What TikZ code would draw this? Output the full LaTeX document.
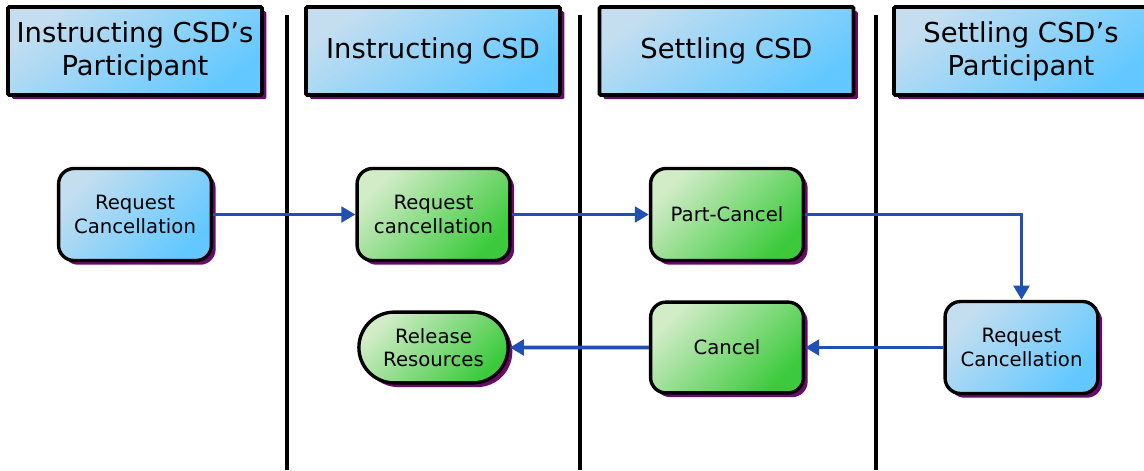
\documentclass[tikz,border=0pt]{standalone}
\usepackage{fontspec}
\setmainfont{DejaVu Sans}
\usepackage{tikz}
\usetikzlibrary{arrows.meta, shapes.misc, shadows}
\definecolor{blueA}{HTML}{C4DEF0}
\definecolor{blueB}{HTML}{62C8FF}
\definecolor{greenA}{HTML}{D2ECC8}
\definecolor{greenB}{HTML}{3CCA3C}
\definecolor{shadowpurple}{HTML}{6A0A6A}
\definecolor{flowblue}{HTML}{2150B4}

\begin{document}
\begin{tikzpicture}[
  x=0.025cm, y=-0.025cm,
  boxshadow/.style={general shadow={fill=shadowpurple, shadow xshift=3pt, shadow yshift=-3pt}},
  headbox/.style={draw, line width=2.7pt, rounded corners=1pt, boxshadow,
    top color=blueA, bottom color=blueB, shading angle=35,
    minimum width=6.35cm, minimum height=2.2cm, align=center,
    font=\fontsize{19.5}{23.5}\selectfont},
  actnode/.style={draw, line width=2.4pt, rounded corners=11pt, boxshadow,
    minimum width=3.82cm, minimum height=2.3cm, align=center, inner sep=2pt,
    font=\fontsize{14}{16.5}\selectfont},
  actblue/.style={actnode, top color=blueA, bottom color=blueB, shading angle=45},
  actgreen/.style={actnode, top color=greenA, bottom color=greenB, shading angle=45},
  endnode/.style={actgreen, rounded rectangle, rounded corners=0pt,
    minimum width=3.87cm, minimum height=1.77cm},
  laneline/.style={line width=2.8pt},
  flowarrow/.style={draw=flowblue, line width=2.8pt, -{Triangle[length=10pt, width=11pt]}}
]
\useasboundingbox (0,0) rectangle (1144,470);

% lane headings
\node[headbox] (hInsP) at (135,51) {Instructing CSD’s\\Participant};
\node[headbox] (hIns) at (433,51) {Instructing CSD};
\node[headbox] (hSet) at (726.5,51) {Settling CSD};
\node[headbox] (hSetP) at (1021,51) {Settling CSD’s\\Participant};

% lane separators
\coordinate (s1) at (287,15);
\coordinate (s2) at (580,15);
\coordinate (s3) at (876,15);
\draw[laneline] (s1) -- (287,470);
\draw[laneline] (s2) -- (580,470);
\draw[laneline] (s3) -- (876,470);

% activities
\node[actblue] (reqP) at (135,214.5) {Request\\Cancellation};
\node[actgreen] (reqI) at (433.5,214.5) {Request\\cancellation};
\node[actgreen] (part) at (727,214.5) {Part-Cancel};
\node[actblue] (reqS) at (1021.5,347.5) {Request\\Cancellation};
\node[actgreen, minimum height=2.27cm] (canc) at (727,347.5) {Cancel};
\node[endnode] (rel) at (433.5,347.5) {Release\\Resources};

% flow
\draw[flowarrow] (reqP) -- (reqI);
\draw[flowarrow] (reqI) -- (part);
\draw[flowarrow] (part.east) -| (reqS.north);
\draw[flowarrow] (reqS) -- (canc);
\draw[flowarrow] (canc) -- (rel);
\end{tikzpicture}
\end{document}
